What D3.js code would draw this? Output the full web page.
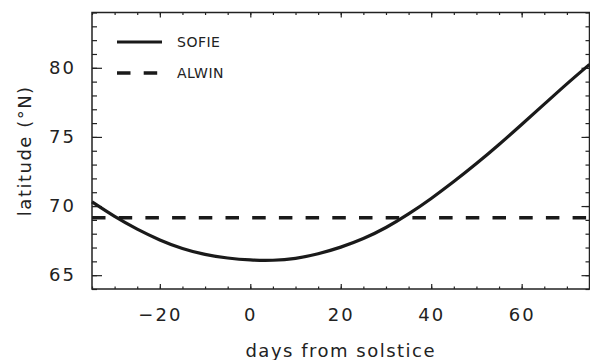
<!DOCTYPE html>
<html>
<head>
<meta charset="utf-8">
<script src="https://cdn.jsdelivr.net/npm/d3@7"></script>
<style>
  body { margin: 0; background: #fff; }
  svg text { font-family: "DejaVu Sans", sans-serif; fill: #222; }
</style>
</head>
<body>
<svg id="chart"></svg>
<script>
// SOFIE latitude vs days from solstice
const days  = [-35, -30, -25, -20, -15, -10, -5, 0, 5, 10, 15, 20, 25, 30, 35, 40, 45, 50, 55, 60, 65, 70, 75];
const sofie = [70.3, 69.25, 68.33, 67.55, 66.93, 66.5, 66.24, 66.1, 66.08, 66.22, 66.55, 67.03, 67.65, 68.45, 69.43, 70.55, 71.77, 73.07, 74.45, 75.9, 77.37, 78.84, 80.25];

// ALWIN latitude (constant)
const alwinDays = [-35, 75];
const alwinLat  = [69.15, 69.15];

const xTicks = [-20, 0, 20, 40, 60];
const yTicks = [65, 70, 75, 80];

const seriesNames = ["SOFIE", "ALWIN"];

const width = 590;
const height = 360;

const svg = d3.select("#chart")
    .attr("width", width)
    .attr("height", height);

const xScale = d3.scaleLinear()
    .domain([-35, 75])
    .range([92, 589.5]);

const yScale = d3.scaleLinear()
    .domain([64, 84])
    .range([289, 12.5]);

const x0 = xScale.range()[0], x1 = xScale.range()[1];
const y0 = yScale.range()[0], y1 = yScale.range()[1];

const minorX = d3.range(-35, 76, 5);
const minorY = d3.range(64, 85, 1);

function styleAxis(g) {
    g.select(".domain").remove();
    g.selectAll("line").attr("stroke", "#222").attr("stroke-width", 1.2);
}

// bottom axis: major + minor ticks pointing in
svg.append("g")
    .attr("transform", `translate(0, ${y0})`)
    .call(d3.axisBottom(xScale).tickValues(minorX).tickSizeInner(-2.5).tickSizeOuter(0).tickFormat(""))
    .call(styleAxis);

svg.append("g")
    .attr("class", "x-axis")
    .attr("transform", `translate(0, ${y0})`)
    .call(d3.axisBottom(xScale).tickValues(xTicks).tickSizeInner(-5).tickSizeOuter(0).tickPadding(19)
        .tickFormat(d => d < 0 ? "\u2212" + Math.abs(d) : d))
    .call(styleAxis);

// top axis
svg.append("g")
    .attr("transform", `translate(0, ${y1})`)
    .call(d3.axisTop(xScale).tickValues(minorX).tickSizeInner(-2.5).tickSizeOuter(0).tickFormat(""))
    .call(styleAxis);

svg.append("g")
    .attr("transform", `translate(0, ${y1})`)
    .call(d3.axisTop(xScale).tickValues(xTicks).tickSizeInner(-5).tickSizeOuter(0).tickFormat(""))
    .call(styleAxis);

// left axis
svg.append("g")
    .attr("transform", `translate(${x0}, 0)`)
    .call(d3.axisLeft(yScale).tickValues(minorY).tickSizeInner(-5).tickSizeOuter(0).tickFormat(""))
    .call(styleAxis);

svg.append("g")
    .attr("class", "y-axis")
    .attr("transform", `translate(${x0}, 0)`)
    .call(d3.axisLeft(yScale).tickValues(yTicks).tickSizeInner(-10).tickSizeOuter(0).tickPadding(16))
    .call(styleAxis);

// right axis
svg.append("g")
    .attr("transform", `translate(${x1}, 0)`)
    .call(d3.axisRight(yScale).tickValues(minorY).tickSizeInner(-4).tickSizeOuter(0).tickFormat(""))
    .call(styleAxis);

svg.append("g")
    .attr("transform", `translate(${x1}, 0)`)
    .call(d3.axisRight(yScale).tickValues(yTicks).tickSizeInner(-8).tickSizeOuter(0).tickFormat(""))
    .call(styleAxis);

svg.selectAll(".x-axis text, .y-axis text")
    .style("font-size", "18px")
    .style("letter-spacing", "2px")
    .attr("fill", "#222");

// frame
svg.append("rect")
    .attr("x", x0)
    .attr("y", y1)
    .attr("width", x1 - x0)
    .attr("height", y0 - y1)
    .attr("fill", "none")
    .attr("stroke", "#222")
    .attr("stroke-width", 1.5);

// ALWIN dashed line
const alwinLine = d3.line()
    .x((d, i) => xScale(alwinDays[i]))
    .y(d => yScale(d));

svg.append("path")
    .datum(alwinLat)
    .attr("d", alwinLine)
    .attr("fill", "none")
    .attr("stroke", "#1a1a1a")
    .attr("stroke-width", 3.5)
    .attr("stroke-dasharray", "13.5 13.2");

// SOFIE curve
const sofieLine = d3.line()
    .x((d, i) => xScale(days[i]))
    .y(d => yScale(d))
    .curve(d3.curveNatural);

svg.append("path")
    .datum(sofie)
    .attr("d", sofieLine)
    .attr("fill", "none")
    .attr("stroke", "#1a1a1a")
    .attr("stroke-width", 3.2);

// legend
const legend = svg.append("g").attr("class", "legend");
seriesNames.forEach((name, i) => {
    const ly = 42 + i * 31;
    legend.append("line")
        .attr("x1", 117).attr("x2", 162)
        .attr("y1", ly).attr("y2", ly)
        .attr("stroke", "#1a1a1a")
        .attr("stroke-width", i === 0 ? 3.2 : 3.5)
        .attr("stroke-dasharray", i === 0 ? null : "13.5 13.2");
    legend.append("text")
        .attr("x", 177)
        .attr("y", ly)
        .attr("dy", "0.36em")
        .style("font-size", "14px")
        .style("letter-spacing", "0.5px")
        .text(name);
});

// axis titles
svg.append("text")
    .attr("x", (x0 + x1) / 2)
    .attr("y", 357)
    .attr("text-anchor", "middle")
    .style("font-size", "18px")
    .style("letter-spacing", "1.5px")
    .text("days from solstice");

svg.append("text")
    .attr("transform", `translate(31, ${(y0 + y1) / 2}) rotate(-90)`)
    .attr("text-anchor", "middle")
    .style("font-size", "18px")
    .style("letter-spacing", "1.5px")
    .text("latitude (°N)");
</script>
</body>
</html>
